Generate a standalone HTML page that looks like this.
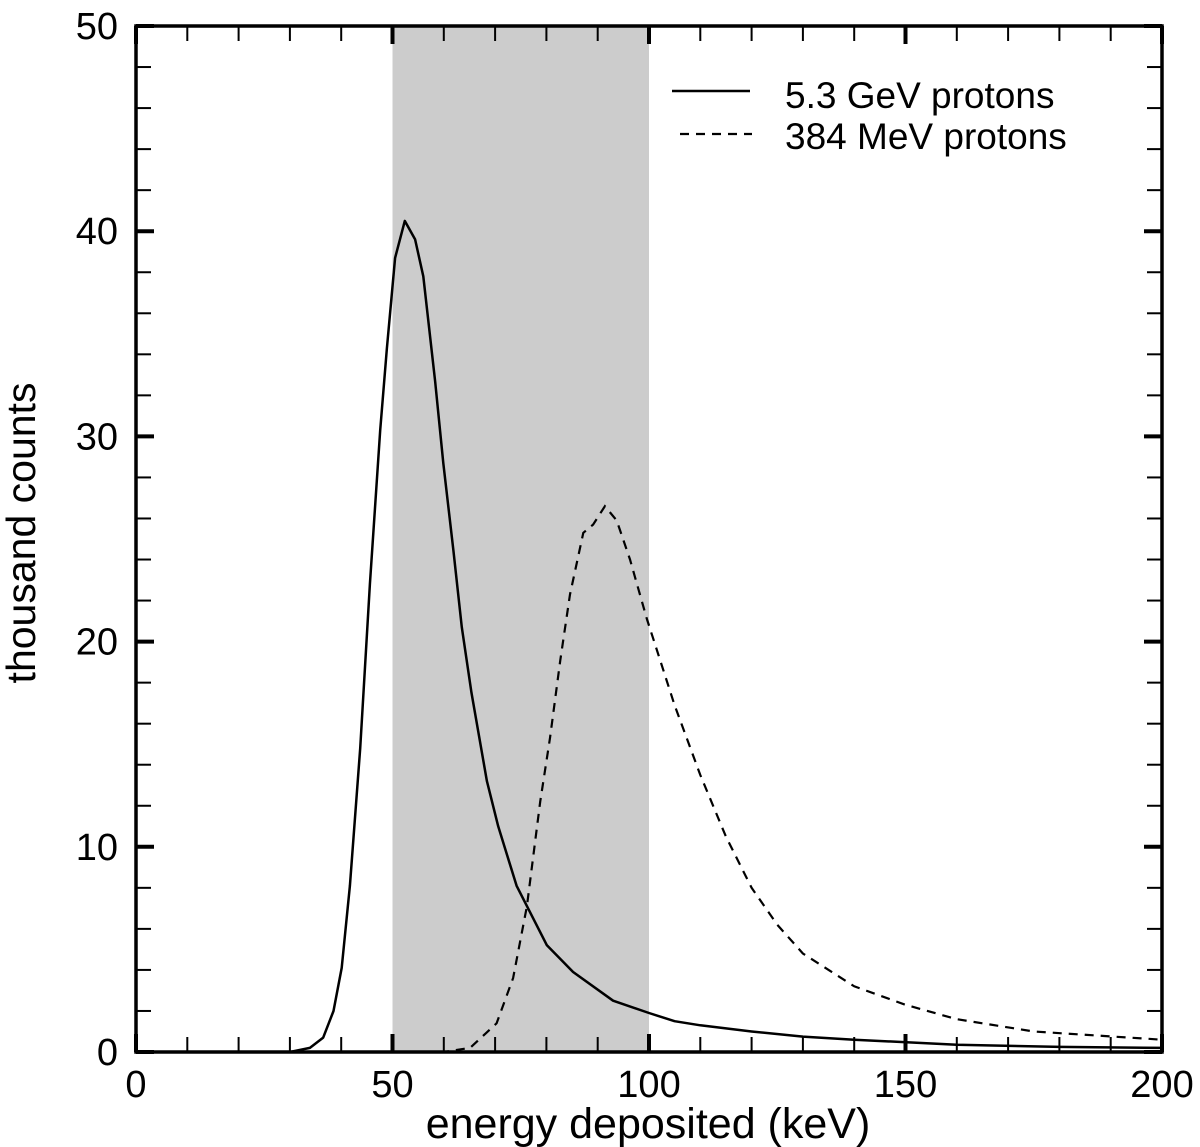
<!DOCTYPE html>
<html><head><meta charset="utf-8"><style>
html,body{margin:0;padding:0;background:#fff}
svg{display:block;font-family:"Liberation Sans",Arial,sans-serif}
</style></head><body>
<svg id="chart" width="1200" height="1147" viewBox="0 0 1200 1147">
<g id="plot"></g>
</svg>
<script>
const xTicks=[0,50,100,150,200];
const yTicks=[0,10,20,30,40,50];
const bandRange=[50,100];
const solidX=[0,30,33.9,36.5,38.5,40.1,41.7,43.7,45.6,47.6,48.9,50.5,52.4,54.4,56,58.3,59.9,61.9,63.5,65.4,68.4,70.6,74.2,80.1,85.2,93,100,105,110,120,130,140,160,180,200];
const solidY=[0,0,0.2,0.7,2.0,4.1,8.1,14.8,22.8,30.3,34.3,38.7,40.5,39.6,37.8,32.7,28.7,24.4,20.7,17.5,13.2,11.0,8.1,5.2,3.9,2.5,1.9,1.5,1.3,1.0,0.75,0.6,0.35,0.25,0.2];
const dashX=[0,60,65.1,70.3,73.5,76.2,78.8,80.7,82.7,84.6,87.2,89.1,91.4,93.7,96.3,99.6,105,110,115,120,125,130,140,150,160,175,200];
const dashY=[0,0,0.2,1.4,3.6,7.1,12.2,15.3,19.1,22.3,25.3,25.7,26.6,25.9,24.0,21.1,16.9,13.5,10.5,8.0,6.2,4.8,3.2,2.3,1.6,1.0,0.6];
const L=136,R=1162,T=26,B=1052;
const sx=v=>L+(v-0)/200*(R-L);
const sy=v=>B-(v/50)*(B-T);
const NS="http://www.w3.org/2000/svg";
const g=document.getElementById('plot');
function mk(t,a){const e=document.createElementNS(NS,t);for(const k in a)e.setAttribute(k,a[k]);g.appendChild(e);return e;}
let band=mk('rect',{x:sx(bandRange[0]),y:T,width:sx(bandRange[1])-sx(bandRange[0]),height:B-T,fill:'#cccccc'});


function pts(xs,ys){return xs.map((x,i)=>sx(x).toFixed(1)+','+sy(ys[i]).toFixed(1)).join(' ');}
let c1=mk('polyline',{points:pts(solidX,solidY),fill:'none',stroke:'#000','stroke-width':2.5,'stroke-linejoin':'round'});


let c2=mk('polyline',{points:pts(dashX,dashY),fill:'none',stroke:'#000','stroke-width':2.2,'stroke-dasharray':'9,7'});


for(let v=0;v<=200;v+=10){const major=v%50===0;const len=major?18:15,w=major?4:2;const x=sx(v);
 mk('line',{x1:x,y1:B,x2:x,y2:B-len,stroke:'#000','stroke-width':w});
 mk('line',{x1:x,y1:T,x2:x,y2:T+len,stroke:'#000','stroke-width':w});}
for(let v=0;v<=50;v+=2){const major=v%10===0;const len=major?18:15,w=major?4:2;const y=sy(v);
 mk('line',{x1:L,y1:y,x2:L+len,y2:y,stroke:'#000','stroke-width':w});
 mk('line',{x1:R,y1:y,x2:R-len,y2:y,stroke:'#000','stroke-width':w});}
let fr=mk('rect',{x:L,y:T,width:R-L,height:B-T,fill:'none',stroke:'#000','stroke-width':3.5});


xTicks.forEach(v=>{const t=mk('text',{x:sx(v),y:1097,'font-size':38,'text-anchor':'middle'});t.textContent=v;
 
 });
yTicks.forEach(v=>{const t=mk('text',{x:118,y:sy(v)+13,'font-size':38,'text-anchor':'end'});t.textContent=v;
 
 });
let xt=mk('text',{x:648,y:1138,'font-size':43,'text-anchor':'middle'});xt.textContent='energy deposited (keV)';


let yt=mk('text',{x:0,y:0,'font-size':41,'text-anchor':'middle',transform:'translate(35,533) rotate(-90)'});yt.textContent='thousand counts';


let l1=mk('line',{x1:672,y1:91,x2:750,y2:91,stroke:'#000','stroke-width':2.5});


let l2=mk('line',{x1:680,y1:134,x2:752,y2:134,stroke:'#000','stroke-width':2.2,'stroke-dasharray':'9,7'});


let lt1=mk('text',{x:785,y:108,'font-size':37});lt1.textContent='5.3 GeV protons';


let lt2=mk('text',{x:785,y:149,'font-size':37});lt2.textContent='384 MeV protons';


</script>
</body></html>
